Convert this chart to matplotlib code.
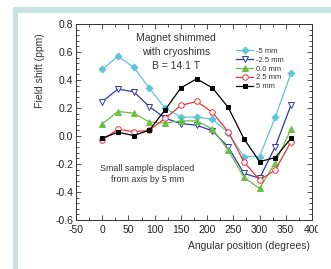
import matplotlib
matplotlib.use("Agg")
import matplotlib.pyplot as plt
from matplotlib.patches import Rectangle
from matplotlib.ticker import MultipleLocator
from matplotlib.transforms import Bbox, TransformedBbox

plt.rcParams['font.family'] = ['Liberation Sans', 'DejaVu Sans']

angles = [0, 30, 60, 90, 120, 150, 180, 210, 240, 270, 300, 330, 360]
m5 = [0.476, 0.569, 0.492, 0.34, 0.199, 0.135, 0.135, 0.12, 0.025, -0.147, -0.147, 0.135, 0.45]
m25 = [0.246, 0.335, 0.316, 0.21, 0.127, 0.089, 0.077, 0.037, -0.077, -0.266, -0.302, -0.076, 0.222]
z0 = [0.087, 0.175, 0.163, 0.10, 0.092, 0.108, 0.108, 0.051, -0.099, -0.295, -0.374, -0.19, 0.049]
p25 = [-0.028, 0.049, 0.03, 0.04, 0.127, 0.218, 0.247, 0.17, 0.032, -0.183, -0.314, -0.243, -0.04]
p5 = [-0.016, 0.027, 0.003, 0.042, 0.187, 0.344, 0.408, 0.344, 0.206, -0.018, -0.183, -0.154, -0.016]
labels = ['-5 mm', '-2.5 mm', '0.0 mm', '2.5 mm', '5 mm']
xticks = [-50, 0, 50, 100, 150, 200, 250, 300, 350, 400]
yticks = [-0.6, -0.4, -0.2, 0.0, 0.2, 0.4, 0.6, 0.8]

W, H = 331, 269
fig = plt.figure(figsize=(W / 100, H / 100), dpi=100)
fig.patch.set_facecolor('white')
fig.add_artist(Rectangle((13 / W, 0), 1, 1 - 7 / H, transform=fig.transFigure,
                         facecolor='#c6e2e2', edgecolor='none', zorder=-10))
fig.add_artist(Rectangle((18 / W, 0), 1, 1 - 13 / H, transform=fig.transFigure,
                         facecolor='white', edgecolor='none', zorder=-9))

ax = fig.add_axes([76 / W, 1 - 220 / H, (312 - 76) / W, (220 - 24) / H])
ax.set_facecolor('none')

styles = [
    dict(color='#5cc6d6', marker='D', mfc='#5cc6d6', ms=3.5),
    dict(color='#2d3aa0', marker='v', mfc='white', ms=4.5),
    dict(color='#6abf45', marker='^', mfc='#6abf45', ms=4.5),
    dict(color='#e8343c', marker='o', mfc='white', ms=4),
    dict(color='black', marker='s', mfc='black', ms=3.5),
]
for ys, lab, st in zip([m5, m25, z0, p25, p5], labels, styles):
    ax.plot(angles, ys, lw=0.9, mew=0.7, mec=st['color'], label=lab, **st)

ax.set_xlim(-50, 400)
ax.set_ylim(-0.6, 0.8)
ax.xaxis.set_minor_locator(MultipleLocator(25))
ax.yaxis.set_minor_locator(MultipleLocator(0.04))
ax.set_xticks(xticks)
ax.set_xticklabels([str(v) for v in xticks])
ax.set_yticks(yticks)
ax.set_yticklabels(['%.1f' % v for v in yticks])
ax.tick_params(which='both', direction='in', top=True, right=True, labelsize=7.5,
               width=0.6, color='#333333', labelcolor='#222222')
ax.tick_params(axis='x', pad=3.5)
ax.tick_params(axis='y', pad=2)
ax.tick_params(which='major', length=3.5)
ax.tick_params(which='minor', length=2)
for s in ax.spines.values():
    s.set_linewidth(0.7)
    s.set_color('#333333')

# the reference image is cropped just through the last x tick label
clipbox = TransformedBbox(Bbox([[0, 0], [318 / W, 1]]), fig.transFigure)
fig.canvas.draw()
for lbl in ax.get_xticklabels():
    if lbl.get_text() == '400':
        lbl.set_clip_on(True)
        lbl.set_clip_box(clipbox)

ax.set_ylabel('Field shift (ppm)', fontsize=7.5, color='#333333')
ax.yaxis.set_label_coords(-0.131, 0.76)
fig.text(249 / W, 1 - 246 / H, 'Angular position (degrees)', fontsize=7.5,
         color='#333333', ha='center', va='center')

ax.text(141, 0.60, 'Magnet shimmed\nwith cryoshims\nB = 14.1 T', fontsize=7.5,
        ha='center', va='center', color='#333333', linespacing=1.55)
ax.text(86, -0.27, 'Small sample displaced\nfrom axis by 5 mm', fontsize=6.4,
        ha='center', va='center', color='#333333', linespacing=1.35)

leg = ax.legend(loc='upper left', bbox_to_anchor=(0.68, 0.88), fontsize=5.5,
                frameon=False, handlelength=2.2, handletextpad=0.3,
                labelspacing=0.2, borderaxespad=0, borderpad=0)
for t in leg.get_texts():
    t.set_color('#333333')

fig.savefig('out.png', dpi=100, facecolor='white')
